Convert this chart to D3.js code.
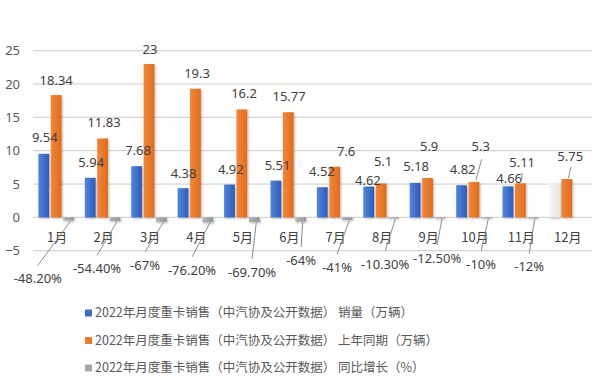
<!DOCTYPE html>
<html><head><meta charset="utf-8">
<script src="https://cdn.jsdelivr.net/npm/d3@7"></script>
<style>
html,body{margin:0;padding:0;background:#fff;}
svg{display:block;font-family:"Noto Sans CJK SC","Noto Sans",sans-serif;}
</style></head>
<body>
<svg id="c" width="600" height="383"></svg>
<script>
// ---- data ----
const months = ["1月","2月","3月","4月","5月","6月","7月","8月","9月","10月","11月","12月"];
const sales = [9.54,5.94,7.68,4.38,4.92,5.51,4.52,4.62,5.18,4.82,4.66,null];
const salesMasked = [null,null,null,null,null,null,null,null,null,null,null,5.1];
const lastYear = [18.34,11.83,23,19.3,16.2,15.77,7.6,5.1,5.9,5.3,5.11,5.75];
const yoyPct = [-48.2,-54.4,-67,-76.2,-69.7,-64,-41,-10.3,-12.5,-10,-12,null];
const yTicks = [-5,0,5,10,15,20,25];
const legendLabels = [
  "2022年月度重卡销售（中汽协及公开数据） 销量（万辆）",
  "2022年月度重卡销售（中汽协及公开数据） 上年同期（万辆）",
  "2022年月度重卡销售（中汽协及公开数据） 同比增长（%）"
];

// ---- layout (label nudges, not data) ----
const salesLabelOff = [[1,-16.5],[1,-15],[1.4,-16],[0.5,-15],[1.3,-15.6],[1.7,-15],[-0.4,-15.6],[-0.8,-6.6],[1,-16],[1.1,-16],[1.2,-8]];
const lastLabelOff = [[0,-15],[1.4,-15.8],[1,-15],[1.6,-15.4],[2.2,-16],[0.8,-15.6],[11.4,-15.7],[2,-21.7],[1.6,-32],[6.7,-35.4],[1.8,-21],[3.4,-23]];
const lastLeader = [null,null,null,null,null,null,null,null,null,[1,12.6,2,-2],[0,10,1,-2],[0.7,10.7,1.7,-0.8]];
const pctLabelOff = [[-30.8,61],[-18,51],[-16.4,47.6],[-15.8,52.6],[-2.2,54.6],[0.4,42.6],[-10,50],[-8.4,46.6],[-2.8,40.6],[-5.2,46.6],[-3.6,49.3]];

const svg = d3.select("#c");
const x = d3.scaleBand().domain(months).range([33,590]);
const y = d3.scaleLinear().domain([-5,25]).range([250.7,50.7]);
const barW = 10.8, stepB = 12.4;
const cx = m => x(m) + x.bandwidth()/2;

const defs = svg.append("defs");
function grad(id, c1, c2){
  const g = defs.append("linearGradient").attr("id",id).attr("x1","0").attr("x2","1").attr("y1","0").attr("y2","0");
  g.append("stop").attr("offset","0").attr("stop-color",c1);
  g.append("stop").attr("offset","1").attr("stop-color",c2);
}
grad("gb","#5086dc","#2d5cb9");
grad("go","#f2873a","#e06c1c");
grad("gg","#b3b3b3","#959595");
grad("gm","#f6f6f6","#e6e6e6");
const f = defs.append("filter").attr("id","sh").attr("x","-30%").attr("y","-30%").attr("width","160%").attr("height","160%");
f.append("feDropShadow").attr("dx",1).attr("dy",1.2).attr("stdDeviation",0.9).attr("flood-color","#000").attr("flood-opacity",0.28);

// gridlines
svg.append("g").selectAll("line").data(yTicks).join("line")
  .attr("x1",33).attr("x2",592).attr("y1",d=>y(d)).attr("y2",d=>y(d))
  .attr("stroke","#d6d6d6").attr("stroke-width",1.2);

// y axis labels
const yAxis = d3.axisLeft(y).tickValues(yTicks).tickSize(0).tickPadding(0);
const ya = svg.append("g").attr("transform","translate(20,0)").call(yAxis);
ya.select(".domain").remove();
ya.selectAll("text").attr("font-size",13).attr("fill","#595959").attr("font-family","'Noto Sans',sans-serif");

// bars
const bars = svg.append("g").attr("filter","url(#sh)");
bars.selectAll(".b").data(months.map((m,i)=>({m,v:sales[i]})).filter(d=>d.v!=null)).join("rect")
  .attr("x",d=>cx(d.m)-stepB-barW/2).attr("width",barW)
  .attr("y",d=>y(d.v)).attr("height",d=>y(0)-y(d.v)).attr("fill","url(#gb)");
bars.selectAll(".bm").data(months.map((m,i)=>({m,v:salesMasked[i]})).filter(d=>d.v!=null)).join("rect")
  .attr("x",d=>cx(d.m)-stepB-barW/2).attr("width",barW)
  .attr("y",d=>y(d.v)).attr("height",d=>y(0)-y(d.v)).attr("fill","url(#gm)");
bars.selectAll(".o").data(months.map((m,i)=>({m,v:lastYear[i]}))).join("rect")
  .attr("x",d=>cx(d.m)-barW/2).attr("width",barW)
  .attr("y",d=>y(d.v)).attr("height",d=>y(0)-y(d.v)).attr("fill","url(#go)");
bars.selectAll(".g").data(months.map((m,i)=>({m,v:yoyPct[i]})).filter(d=>d.v!=null)).join("rect")
  .attr("x",d=>cx(d.m)+stepB-barW/2).attr("width",barW)
  .attr("y",y(0)).attr("height",d=>Math.max(1.2,y(d.v/100)-y(0))).attr("fill","url(#gg)");

// month labels
svg.append("g").selectAll("text").data(months).join("text")
  .attr("x",d=>cx(d)+1).attr("y",237).attr("dy","0.35em").attr("text-anchor","middle")
  .attr("font-size",13).attr("fill","#404040").text(d=>d);

const lab = svg.append("g").attr("font-size",13).attr("fill","#404040").attr("text-anchor","middle")
  .attr("font-family","'Noto Sans',sans-serif");
const lead = svg.append("g").attr("stroke","#8c8c8c").attr("stroke-width",1).attr("fill","none");

// sales labels
sales.forEach((v,i)=>{
  if(v==null) return;
  const bx = cx(months[i])-stepB, o = salesLabelOff[i];
  lab.append("text").attr("x",bx+o[0]).attr("y",y(v)+o[1]).attr("dy","0.35em").text(String(v));
});
// last year labels + leaders
lastYear.forEach((v,i)=>{
  const bx = cx(months[i]), o = lastLabelOff[i];
  const lx = bx+o[0], ly = y(v)+o[1];
  const L = lastLeader[i];
  if(L) lead.append("line").attr("x1",lx+L[0]).attr("y1",ly+L[1]).attr("x2",bx+L[2]).attr("y2",y(v)+L[3]);
  lab.append("text").attr("x",lx).attr("y",ly).attr("dy","0.35em").text(String(v));
});
// yoy labels + leaders
const fmtPct = v => (Number.isInteger(v) ? String(v) : v.toFixed(2)) + "%";
yoyPct.forEach((v,i)=>{
  if(v==null) return;
  const bx = cx(months[i])+stepB, o = pctLabelOff[i];
  const lx = bx+o[0], ly = y(0)+o[1];
  lead.append("line").attr("x1",bx+2).attr("y1",y(v/100)+0.5).attr("x2",lx).attr("y2",ly-13);
  lab.append("text").attr("x",lx).attr("y",ly).attr("dy","0.35em").text(fmtPct(v));
});

// legend
const legColors = ["#3a6cc9","#ec7a2c","#a5a5a5"];
const lg = svg.append("g");
legendLabels.forEach((t,i)=>{
  const yy = 313 + i*27.5;
  lg.append("rect").attr("x",85).attr("y",yy-3.5).attr("width",7).attr("height",7).attr("fill",legColors[i]);
  lg.append("text").attr("x",95).attr("y",yy).attr("dy","0.35em").attr("font-size",12.5).attr("fill","#595959").text(t);
});
</script>
</body></html>
